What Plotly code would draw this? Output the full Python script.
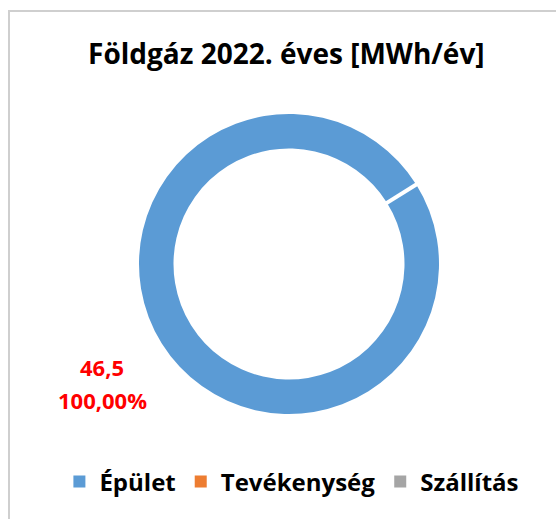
import math

import plotly.graph_objects as go

# data
categories = ["Épület", "Tevékenység", "Szállítás"]
values = [46.5, 0.0, 0.0]
colors = ["#5B9BD5", "#ED7D31", "#A5A5A5"]
title_text = "Földgáz 2022. éves [MWh/év]"

W, H = 556, 519
FONT = "Open Sans"

# donut placement (pixels in the page)
cx, cy, r_out = 289, 264, 150
hole = 0.77
rotation = 58

dom_x = [(cx - r_out) / W, (cx + r_out) / W]
dom_y = [1 - (cy + r_out) / H, 1 - (cy - r_out) / H]

fig = go.Figure(
    go.Pie(
        labels=categories,
        values=values,
        hole=hole,
        sort=False,
        direction="clockwise",
        rotation=rotation,
        marker={"colors": colors, "line": {"color": "white", "width": 0}},
        textinfo="none",
        hoverinfo="label+value+percent",
        domain={"x": dom_x, "y": dom_y},
        showlegend=True,
    )
)

# white separator where the slice starts/ends
ang = math.radians(rotation)
r_in = r_out * hole
fig.add_shape(
    type="line",
    xref="paper",
    yref="paper",
    x0=(cx + (r_in - 2) * math.sin(ang)) / W,
    y0=1 - (cy - (r_in - 2) * math.cos(ang)) / H,
    x1=(cx + (r_out + 2) * math.sin(ang)) / W,
    y1=1 - (cy - (r_out + 2) * math.cos(ang)) / H,
    line={"color": "white", "width": 4},
)

# chart area border (right and bottom edges fall outside the page)
fig.add_shape(
    type="path",
    xref="paper",
    yref="paper",
    path=f"M {9 / W} 0 L {9 / W} {1 - 11 / H} L 1 {1 - 11 / H}",
    line={"color": "#CFCFCF", "width": 2},
    layer="above",
)

# data label: value and share on two lines
total = sum(values)
value_txt = f"{values[0]:.1f}".replace(".", ",")
share_txt = f"{values[0] / total * 100:.2f}%".replace(".", ",")
for txt, ypix in [(value_txt, 367), (share_txt, 400)]:
    fig.add_annotation(
        text=f"<b>{txt}</b>",
        x=102 / W,
        y=1 - ypix / H,
        xref="paper",
        yref="paper",
        xanchor="center",
        yanchor="middle",
        showarrow=False,
        font={"family": FONT, "size": 22, "color": "#FF0000"},
    )

fig.update_layout(
    width=W,
    height=H,
    margin={"l": 0, "r": 0, "t": 0, "b": 0},
    paper_bgcolor="white",
    plot_bgcolor="white",
    title={
        "text": f"<b>{title_text}</b>",
        "x": 0.515,
        "xanchor": "center",
        "y": 1 - 54 / H,
        "yanchor": "middle",
        "font": {"family": FONT, "size": 28, "color": "#000000"},
    },
    legend={
        "orientation": "h",
        "x": 0.525,
        "xanchor": "center",
        "y": 1 - 482 / H,
        "yanchor": "middle",
        "font": {"family": FONT, "size": 24, "color": "#000000", "weight": "bold"},
        "itemclick": False,
    },
)

fig.write_html(
    "out.html",
    config={"displayModeBar": False},
    post_script="document.body.style.margin = '0';",
)
